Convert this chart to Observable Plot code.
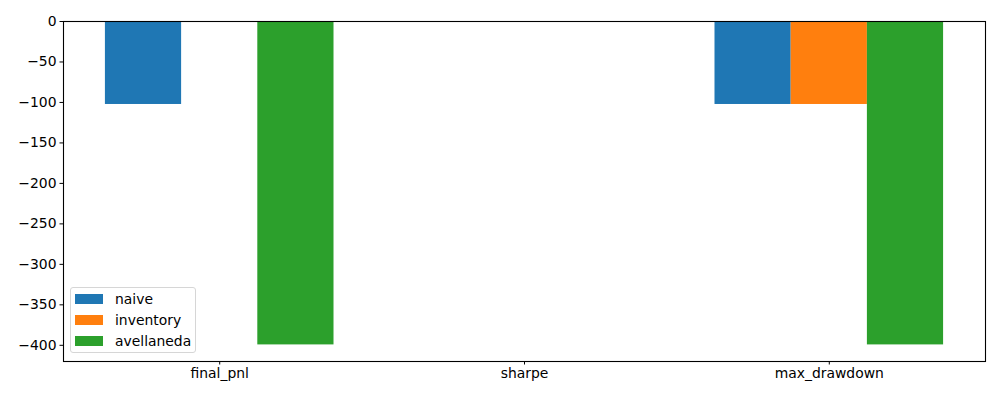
<!DOCTYPE html>
<html>
<head>
<meta charset="utf-8">
<script src="https://cdn.jsdelivr.net/npm/d3@7"></script>
<script src="https://cdn.jsdelivr.net/npm/@observablehq/plot@0.6"></script>
<style>
  body { margin: 0; background: #fff; }
  #wrap { position: relative; width: 1000px; height: 400px; font-family: "DejaVu Sans", sans-serif; }
  #legend {
    position: absolute; left: 70px; top: 287px; width: 126px; height: 66px;
    border: 1px solid #d6d6d6; border-radius: 3px; background: rgba(255,255,255,0.8);
    font-size: 13.9px; color: #000; box-sizing: border-box;
  }
  .item { position: absolute; left: 4px; height: 20px; display: flex; align-items: center; }
  .sw { width: 28px; height: 10px; margin-right: 12px; }
</style>
</head>
<body>
<div id="wrap"><div id="chart"></div><div id="legend"></div></div>
<script>
const categories = ["final_pnl", "sharpe", "max_drawdown"];
const series = ["naive", "inventory", "avellaneda"];
const colors = ["#1f77b4", "#ff7f0e", "#2ca02c"];
const naive = [-102.5, 0, -102.5];
const inventory = [0, 0, -102.5];
const avellaneda = [-399.5, 0, -399.5];
const yTicks = [0, -50, -100, -150, -200, -250, -300, -350, -400];

const values = [naive, inventory, avellaneda];
const barWidth = 0.25;
const rows = [];
categories.forEach((c, i) => {
  series.forEach((s, j) => {
    const center = i + (j - 1) * barWidth;
    rows.push({category: c, series: s, value: values[j][i], x1: center - barWidth / 2, x2: center + barWidth / 2});
  });
});

const chart = Plot.plot({
  width: 1000,
  height: 400,
  marginLeft: 63,
  marginRight: 15,
  marginTop: 21,
  marginBottom: 39,
  style: {fontFamily: "DejaVu Sans, sans-serif", fontSize: "13.9px", color: "#000", background: "#fff"},
  x: {domain: [-0.5125, 2.5125], ticks: [0, 1, 2], tickFormat: i => categories[i], tickSize: 3.5, tickPadding: 3.5, label: null},
  y: {domain: [-420, 0], ticks: yTicks, tickSize: 3.5, tickPadding: 3.5, label: null},
  color: {domain: series, range: colors},
  marks: [
    Plot.rectY(rows, {x1: "x1", x2: "x2", y1: 0, y2: "value", fill: "series"}),
    Plot.frame({stroke: "#000", strokeWidth: 1.1})
  ]
});
document.getElementById("chart").appendChild(chart);

const legend = document.getElementById("legend");
series.forEach((s, j) => {
  const item = document.createElement("div");
  item.className = "item";
  item.style.top = (1 + j * 21) + "px";
  const sw = document.createElement("div");
  sw.className = "sw";
  sw.style.background = colors[j];
  const t = document.createElement("span");
  t.textContent = s;
  item.appendChild(sw);
  item.appendChild(t);
  legend.appendChild(item);
});
</script>
</body>
</html>
